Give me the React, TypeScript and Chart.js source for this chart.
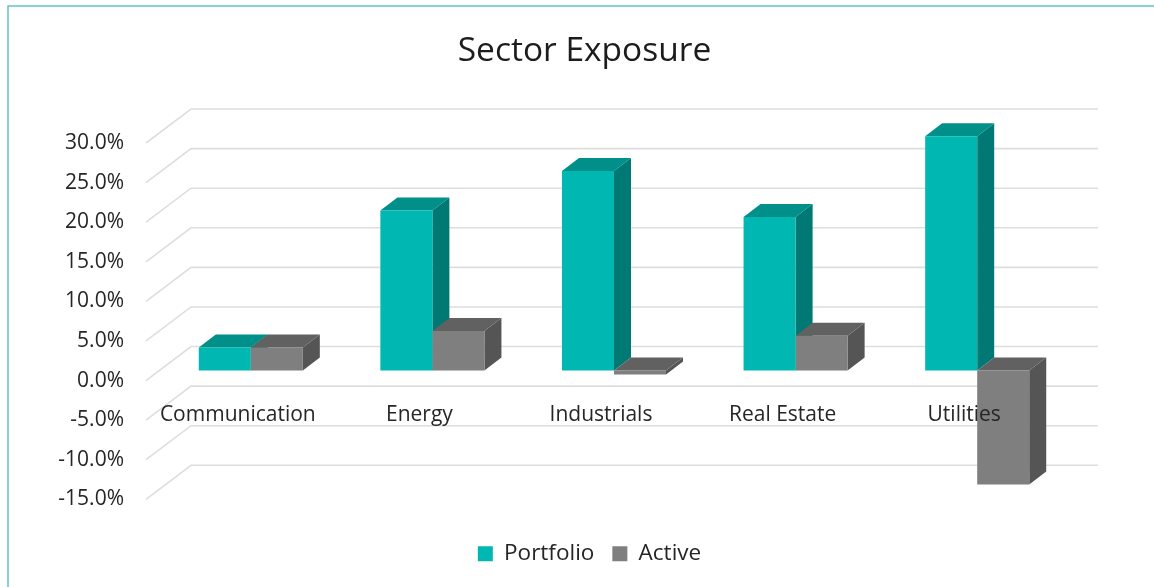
import React, { useEffect, useRef } from "react";
import { Chart, registerables } from "chart.js";

Chart.register(...registerables);

const categories = ["Communication", "Energy", "Industrials", "Real Estate", "Utilities"];
const portfolio = [2.9, 20.2, 25.2, 19.4, 29.6];
const active = [2.9, 5.0, -0.5, 4.4, -14.4];
const seriesNames = ["Portfolio", "Active"];
const yMin = -15;
const yMax = 30;
const yStep = 5;
const FONT = "'Open Sans', sans-serif";

const faceColors: Record<string, { top: string; side: string }> = {
  Portfolio: { top: "#008F89", side: "#007874" },
  Active: { top: "#616161", side: "#555555" },
};

const wall = { dx: 45, dy: -34 };
const barShift = { dx: 13, dy: -10 };
const depth = { dx: 17, dy: -13 };

const threeD = {
  id: "threeD",
  beforeDraw(chart: any) {
    const { ctx, width, height } = chart;
    ctx.save();
    ctx.fillStyle = "#FFFFFF";
    ctx.fillRect(0, 0, width, height);
    ctx.strokeStyle = "#63C3C4";
    ctx.lineWidth = 1.5;
    ctx.beginPath();
    ctx.moveTo(8, height);
    ctx.lineTo(8, 6);
    ctx.lineTo(width, 6);
    ctx.stroke();
    ctx.restore();
  },
  afterLayout(chart: any) {
    chart.titleBlock.left += 37;
    chart.titleBlock.right += 37;
    chart.legend.left += 42;
    chart.legend.right += 42;
  },
  beforeDatasetsDraw(chart: any) {
    const { ctx, chartArea, scales } = chart;
    ctx.save();
    ctx.strokeStyle = "#DEDEDE";
    ctx.lineWidth = 1.6;
    scales.y.ticks.forEach((t: any) => {
      const y = scales.y.getPixelForValue(t.value);
      ctx.beginPath();
      ctx.moveTo(chartArea.left - 1, y);
      ctx.lineTo(chartArea.left - 1 + wall.dx, y + wall.dy);
      ctx.lineTo(chartArea.right + wall.dx - 2, y + wall.dy);
      ctx.stroke();
    });
    ctx.restore();
    ctx.save();
    ctx.translate(barShift.dx, barShift.dy);
    chart.data.datasets.forEach((ds: any, index: number) => {
      const meta = chart.getDatasetMeta(index);
      const colors = faceColors[ds.label];
      meta.data.forEach((bar: any) => {
        const p = bar.getProps(["x", "y", "base", "width"], true);
        const l = p.x - p.width / 2;
        const r = p.x + p.width / 2;
        const top = Math.min(p.y, p.base);
        const bottom = Math.max(p.y, p.base);
        ctx.fillStyle = colors.side;
        ctx.beginPath();
        ctx.moveTo(r, top);
        ctx.lineTo(r + depth.dx, top + depth.dy);
        ctx.lineTo(r + depth.dx, bottom + depth.dy);
        ctx.lineTo(r, bottom);
        ctx.closePath();
        ctx.fill();
        ctx.fillStyle = colors.top;
        ctx.beginPath();
        ctx.moveTo(l, top);
        ctx.lineTo(l + depth.dx, top + depth.dy);
        ctx.lineTo(r + depth.dx, top + depth.dy);
        ctx.lineTo(r, top);
        ctx.closePath();
        ctx.fill();
      });
    });
  },
  afterDatasetsDraw(chart: any) {
    chart.ctx.restore();
  },
};

export default function App() {
  const ref = useRef<HTMLCanvasElement>(null);
  useEffect(() => {
    const chart = new Chart(ref.current as HTMLCanvasElement, {
      type: "bar",
      plugins: [threeD],
      data: {
        labels: categories,
        datasets: [
          { label: seriesNames[0], data: portfolio, backgroundColor: "#00B7B1", clip: false },
          { label: seriesNames[1], data: active, backgroundColor: "#7F7F7F", clip: false },
        ],
      } as any,
      options: {
        animation: false,
        responsive: false,
        layout: { padding: { left: 40, right: 99, top: 0, bottom: 12 } },
        datasets: { bar: { categoryPercentage: 0.573, barPercentage: 1, borderWidth: 0 } },
        plugins: {
          tooltip: { enabled: false },
          title: {
            display: true,
            text: "Sector Exposure",
            color: "#1C1C1C",
            font: { family: FONT, size: 33.5, weight: "normal", lineHeight: 1.2 },
            padding: { top: 31, bottom: 71.8 },
          },
          legend: {
            position: "bottom",
            title: { display: true, text: " ", font: { size: 1 }, padding: { top: 24, bottom: 0 } },
            labels: {
              boxWidth: 15,
              boxHeight: 15,
              padding: 18,
              color: "#262626",
              font: { family: FONT, size: 22.5 },
            },
          },
        },
        scales: {
          x: {
            position: { y: 0 },
            grid: { display: false, drawTicks: false },
            border: { display: false },
            ticks: {
              z: 1,
              padding: 22,
              color: "#262626",
              maxRotation: 0,
              autoSkip: false,
              font: { family: FONT, size: 21 },
            },
          },
          y: {
            min: yMin,
            max: yMax,
            afterFit: (s: any) => {
              s.width = 107;
            },
            grid: { display: false, drawTicks: false },
            border: { display: false },
            ticks: {
              stepSize: yStep,
              padding: 23,
              color: "#262626",
              font: { family: FONT, size: 21 },
              callback: (v: any) => Number(v).toFixed(1) + "%",
            },
          },
        },
      },
    } as any);
    return () => chart.destroy();
  }, []);
  return (
    <div style={{ position: "absolute", left: 0, top: 0, width: 1154, height: 587 }}>
      <canvas ref={ref} width={1154} height={587} style={{ display: "block" }} />
    </div>
  );
}
